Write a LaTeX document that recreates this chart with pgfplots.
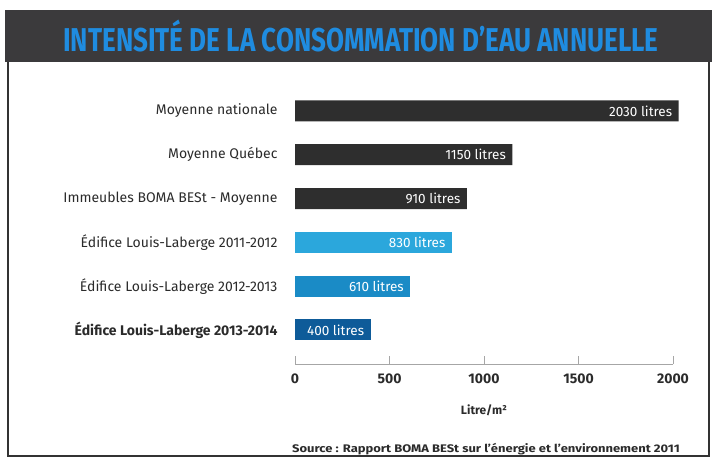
\documentclass[border=0pt]{standalone}
\usepackage{pgfplots}
\pgfplotsset{compat=1.18}
\usepackage{fontspec}
\setmainfont{Fira Sans}
\usepackage{graphicx}
\definecolor{banner}{HTML}{3B3A3C}
\definecolor{titleblue}{HTML}{1F8CE0}
\definecolor{darkbar}{HTML}{2E2E2E}
\definecolor{lightblue}{HTML}{2BA7DC}
\definecolor{midblue}{HTML}{1A8BC6}
\definecolor{navy}{HTML}{0E5B99}
\definecolor{txt}{HTML}{2B2B2B}
\begin{document}
\begin{tikzpicture}[x=1pt,y=1pt]
\fill[white] (0,0) rectangle (712,472);
\draw[black!80, line width=2pt] (8,410) -- (8,16) -- (709,16) -- (709,410);
\fill[banner] (5,410) rectangle (712,462);
\node[text=titleblue, font=\bfseries\fontsize{33}{33}\selectfont] at (361,436) {\scalebox{0.79}[1]{INTENSITÉ DE LA CONSOMMATION D'EAU ANNUELLE}};
\begin{axis}[
  at={(295pt,108pt)}, anchor=south west,
  scale only axis, width=378pt, height=275pt,
  xmin=0, xmax=2000, ymin=-0.776, ymax=5.5,
  xbar, bar width=21pt, bar shift=0pt, clip=false,
  axis x line=bottom, axis y line=left,
  x axis line style={-, draw=gray!70, line width=1pt},
  y axis line style={draw=none},
  ytick style={draw=none},
  xtick={0,500,1000,1500,2000},
  xtick style={draw=gray!70, line width=1pt},
  major tick length=8pt,
  xtick align=inside,
  ytick={0,1,2,3,4,5},
  yticklabels={\textbf{Édifice Louis-Laberge 2013-2014}, Édifice Louis-Laberge 2012-2013, Édifice Louis-Laberge 2011-2012, Immeubles BOMA BESt - Moyenne, Moyenne Québec, Moyenne nationale},
  yticklabel style={font=\fontsize{14}{14}\selectfont, text=txt, xshift=-10pt},
  xticklabel style={font=\bfseries\fontsize{14}{14}\selectfont, text=txt, yshift=-6pt},
  /pgf/number format/assume math mode=true,
  /pgf/number format/1000 sep={},
  xlabel={\textbf{Litre/m²}},
  xlabel style={font=\fontsize{12}{12}\selectfont, text=txt, yshift=-14pt},
  point meta=x,
  nodes near coords={\pgfmathprintnumber[1000 sep={}]{\pgfplotspointmeta}~litres},
  every node near coord/.append style={anchor=east, xshift=-3pt, text=white, font=\fontsize{13.5}{13.5}\selectfont},
]
\addplot[fill=darkbar, draw=none] coordinates {(2030,5) (1150,4) (910,3)};
\addplot[fill=lightblue, draw=none] coordinates {(830,2)};
\addplot[fill=midblue, draw=none] coordinates {(610,1)};
\addplot[fill=navy, draw=none] coordinates {(400,0)};
\end{axis}
\node[text=txt, font=\bfseries\fontsize{11}{11}\selectfont] at (486,23) {\scalebox{1.18}[1]{Source : Rapport BOMA BESt sur l'énergie et l'environnement 2011}};
\end{tikzpicture}
\end{document}
